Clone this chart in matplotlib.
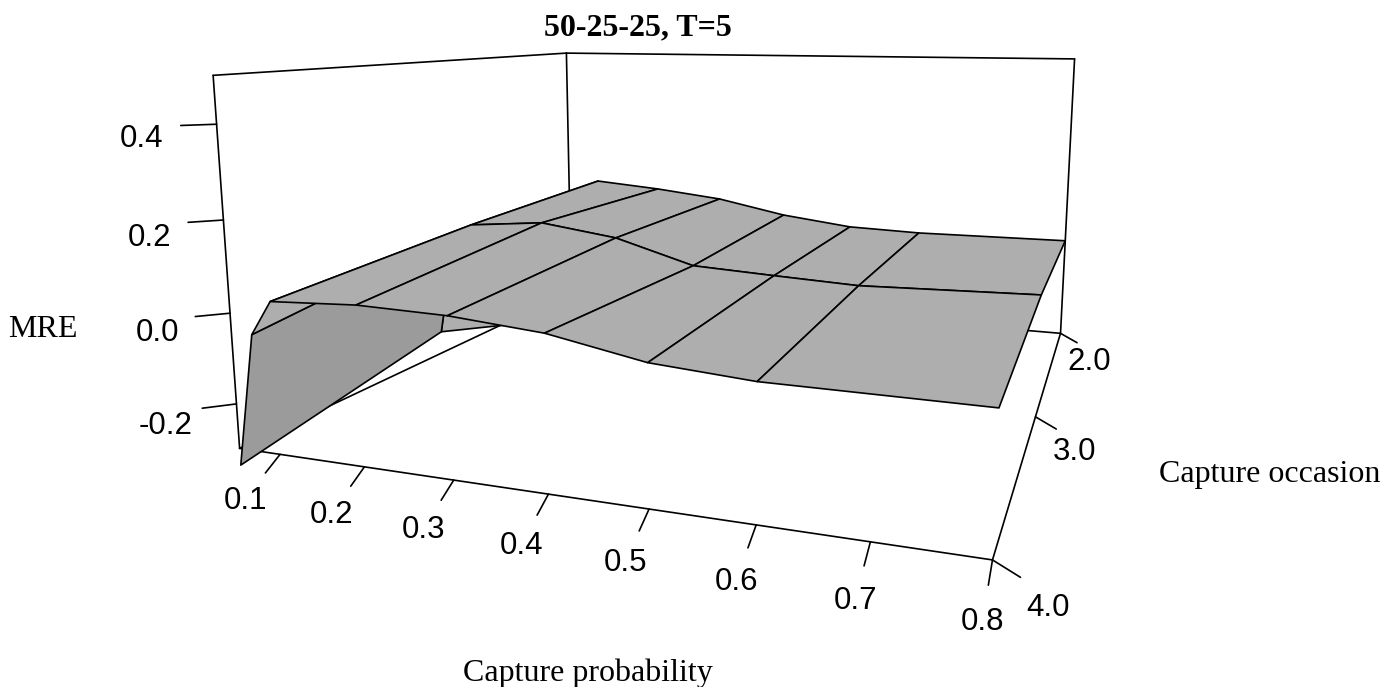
import matplotlib
matplotlib.use('Agg')
import matplotlib.pyplot as plt
import numpy as np

# surface values (MRE, rows = capture occasion)
capture_prob = [0.05, 0.075, 0.1, 0.2, 0.3, 0.4, 0.5, 0.6, 0.8]
capture_occ = [2.0, 3.0, 4.0]
mre_occ2 = [-0.391, 0.030, 0.083, 0.067, 0.045, 0.005, -0.020, -0.026, -0.023]
mre_occ3 = [-0.240, 0.035, 0.066, 0.084, 0.057, -0.001, -0.011, -0.020, -0.009]
mre_occ4 = [-0.338, -0.042, 0.034, 0.044, 0.040, 0.024, -0.013, -0.027, -0.028]

x_ticks = [0.1, 0.2, 0.3, 0.4, 0.5, 0.6, 0.7, 0.8]
y_ticks = [2.0, 3.0, 4.0]
z_ticks = [-0.2, 0.0, 0.2, 0.4]

xlim = (0.05, 0.8)
ylim = (2.0, 4.0)
zlim = (-0.3, 0.5)

# camera, same idea as persp() in R
theta, phi, r, expand = np.radians(19.866), np.radians(9.941), 1.769, 0.501
scale, x0, y0 = 1206.9, 713.05, 227.54
TICK = 0.03
LABEL = 0.07

LIGHT = '#AEAEAE'
DARK = '#9B9B9B'


def project(x, y, z):
    X = (x - sum(xlim) / 2) / ((xlim[1] - xlim[0]) / 2)
    Y = sum(ylim) / 2 - y
    Z = expand * (z - sum(zlim) / 2) / ((zlim[1] - zlim[0]) / 2)
    a = X * np.cos(theta) + Y * np.sin(theta)
    b = -X * np.sin(theta) + Y * np.cos(theta)
    v = Z * np.cos(phi) + b * np.sin(phi)
    w = b * np.cos(phi) - Z * np.sin(phi)
    den = 2 + r + w
    return x0 + scale * a / den, y0 - scale * v / den


def seg(ax, p, q):
    u0, v0 = project(*p)
    u1, v1 = project(*q)
    ax.plot([u0, u1], [v0, v1], color='black', lw=1.2, solid_capstyle='round', zorder=1)


fig = plt.figure(figsize=(13.96, 6.87), dpi=100)
ax = fig.add_axes([0, 0, 1, 1])
ax.set_xlim(0, 1396)
ax.set_ylim(687, 0)
ax.axis('off')

xa, xb = xlim
ya, yb = ylim
za, zb = zlim

# box edges behind the surface
box = [((xa, yb, za), (xa, yb, zb)), ((xa, yb, zb), (xa, ya, zb)), ((xa, ya, zb), (xb, ya, zb)),
       ((xb, ya, zb), (xb, ya, za)), ((xa, ya, zb), (xa, ya, za)), ((xa, ya, za), (xb, ya, za)),
       ((xa, ya, za), (xa, yb, za)), ((xa, yb, za), (xb, yb, za)), ((xb, yb, za), (xb, ya, za))]
for p, q in box:
    seg(ax, p, q)

# surface, far cells first
mre = np.array([mre_occ2, mre_occ3, mre_occ4])
for i in range(len(capture_prob) - 1):
    for j in range(len(capture_occ) - 1):
        xc = [capture_prob[i], capture_prob[i + 1], capture_prob[i + 1], capture_prob[i]]
        yc = [capture_occ[j], capture_occ[j], capture_occ[j + 1], capture_occ[j + 1]]
        zc = [mre[j, i], mre[j, i + 1], mre[j + 1, i + 1], mre[j + 1, i]]
        u, v = project(np.array(xc), np.array(yc), np.array(zc))
        col = DARK if (i == 0 and j == 1) else LIGHT
        ax.fill(u, v, facecolor=col, edgecolor='black', lw=1.2, joinstyle='round', zorder=2 + i + j * 0.1)

# ticks and tick labels
tick_font = dict(family='Liberation Sans', fontsize=22.5, ha='center', va='center', color='black')
xr, yr, zr = xb - xa, yb - ya, zb - za
for t in x_ticks:
    seg(ax, (t, yb, za), (t, yb + TICK * yr, za - TICK * zr))
    u, v = project(t, yb + LABEL * yr, za - LABEL * zr)
    ax.text(u, v + 2, '%.1f' % t, **tick_font)
for t in y_ticks:
    seg(ax, (xb, t, za), (xb + TICK * xr, t, za - TICK * zr))
    u, v = project(xb + LABEL * xr, t, za - LABEL * zr)
    ax.text(u - 10, v + 7, '%.1f' % t, **tick_font)
for t in z_ticks:
    seg(ax, (xa, yb, t), (xa - TICK * xr, yb + TICK * yr, t))
    u, v = project(xa - LABEL * xr, yb + LABEL * yr, t)
    ax.text(u + 10, v + 12, '%.1f' % t, **tick_font)

# titles
serif = dict(family='Liberation Serif', fontsize=23, ha='center', va='baseline', color='black')
ax.text(638, 35.7, '50-25-25, T=5', fontweight='bold', **serif)
ax.text(588, 680.7, 'Capture probability', **serif)
ax.text(1270, 482, 'Capture occasion', **serif)
ax.text(42.5, 336.7, 'MRE', **serif)

fig.savefig('out.png', dpi=100)
